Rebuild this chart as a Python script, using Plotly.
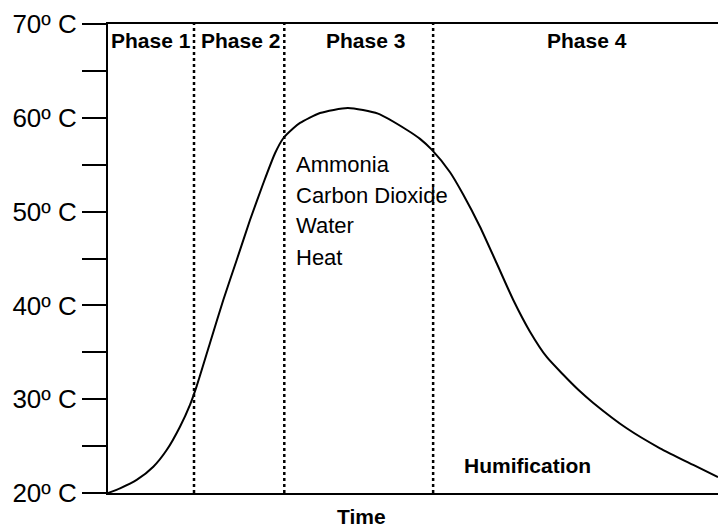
import plotly.graph_objects as go

# Curve data (time in arbitrary units 0-100, temperature in °C)
time_vals = [0, 1.97, 4.70, 7.43, 9.62, 11.80, 13.44, 14.54, 16.72, 18.90, 21.10, 23.28,
             25.46, 27.38, 28.74, 30.38, 31.48, 34.75, 39.34, 44.26, 49.02, 51.15, 53.07,
             56.07, 58.25, 60.98, 63.72, 66.44, 69.18, 71.92, 74.64, 77.10, 79.56, 85.03,
             90.49, 95.95, 100]
temp_vals = [20.0, 20.50, 21.39, 22.80, 24.58, 27.07, 29.4, 31.4, 36.0, 40.58, 44.84, 49.10,
             53.02, 56.22, 57.82, 58.88, 59.45, 60.51, 61.04, 60.44, 58.70, 57.75, 56.6,
             54.2, 51.8, 48.39, 44.49, 40.58, 37.2, 34.5, 32.6, 31.0, 29.6, 26.90,
             24.77, 22.99, 21.7]

phase_boundaries = [14.1, 28.9, 53.3]
phase_labels = ["Phase 1", "Phase 2", "Phase 3", "Phase 4"]
phase_label_x = [7.05, 21.8, 42.2, 78.5]

products = ["Ammonia", "Carbon Dioxide", "Water", "Heat"]
product_y = [54.97, 51.77, 48.57, 45.16]

tick_vals = [20, 25, 30, 35, 40, 45, 50, 55, 60, 65, 70]
tick_text = ["20º C", "", "30º C", "", "40º C", "", "50º C", "", "60º C", "", "70º C"]

FONT = "Liberation Sans, Arial, sans-serif"

fig = go.Figure()
fig.add_trace(go.Scatter(x=time_vals, y=temp_vals, mode="lines",
                         line=dict(color="black", width=2, shape="spline", smoothing=0.6),
                         hoverinfo="skip", showlegend=False))

for xb in phase_boundaries:
    fig.add_shape(type="line", x0=xb, x1=xb, y0=20, y1=70, xref="x", yref="y",
                  line=dict(color="black", width=2.5, dash="dot"))

for lab, lx in zip(phase_labels, phase_label_x):
    fig.add_annotation(x=lx, y=68.2, text="<b>" + lab + "</b>", showarrow=False,
                       font=dict(family=FONT, size=21, color="black"),
                       xanchor="center", yanchor="middle")

for p, py in zip(products, product_y):
    fig.add_annotation(x=30.5, y=py, text=p, showarrow=False,
                       font=dict(family=FONT, size=22, color="black"),
                       xanchor="left", yanchor="middle")

fig.add_annotation(x=68.85, y=22.9, text="<b>Humification</b>", showarrow=False,
                   font=dict(family=FONT, size=21, color="black"),
                   xanchor="center", yanchor="middle")

fig.add_annotation(x=41.6, y=0, xref="x", yref="paper", yshift=-23, text="<b>Time</b>",
                   showarrow=False, font=dict(family=FONT, size=21, color="black"),
                   xanchor="center", yanchor="middle")

fig.update_layout(
    width=718, height=527,
    margin=dict(l=108, r=0, t=24, b=34),
    paper_bgcolor="white", plot_bgcolor="white",
    showlegend=False,
    xaxis=dict(range=[0, 100], showgrid=False, zeroline=False, showticklabels=False,
               ticks="", showline=True, linecolor="black", linewidth=2, mirror=True),
    yaxis=dict(range=[20, 70], showgrid=False, zeroline=False,
               tickmode="array", tickvals=tick_vals, ticktext=tick_text,
               ticks="outside", ticklen=24, tickwidth=2, tickcolor="black",
               tickfont=dict(family=FONT, size=26, color="black"),
               showline=True, linecolor="black", linewidth=2),
)

fig.write_html("out.html", config={"displayModeBar": False},
               post_script="document.body.style.margin='0';")
